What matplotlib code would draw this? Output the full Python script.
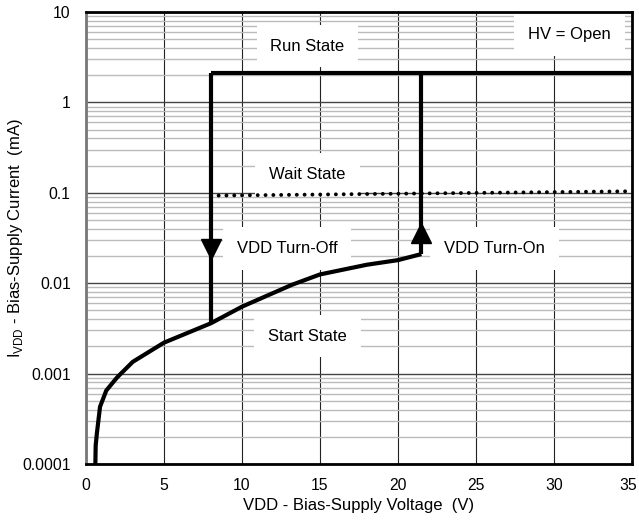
import numpy as np
import matplotlib.pyplot as plt
import matplotlib.transforms as mtransforms
from matplotlib.ticker import FixedLocator, LogLocator, NullFormatter

plt.rcParams['font.family'] = ['Liberation Sans', 'DejaVu Sans']

# start-state curve (V, mA)
start_v = [0.6, 0.62, 0.7, 0.9, 1.3, 2.0, 3.0, 5.0, 8.0, 10.0, 13.2, 15.0, 18.0, 20.0, 21.5]
start_i = [0.0001, 0.00016, 0.00022, 0.00043, 0.00065, 0.00091, 0.00135, 0.0022, 0.0036,
           0.0055, 0.0096, 0.0125, 0.016, 0.018, 0.021]
turn_on_v = 21.5
turn_off_v = 8.0
run_i = 2.1
wait_v = [8.0, 35.0]
wait_i = [0.093, 0.104]

xticks = [0, 5, 10, 15, 20, 25, 30, 35]
yticks = [0.0001, 0.001, 0.01, 0.1, 1, 10]
ylabels = ['0.0001', '0.001', '0.01', '0.1', '1', '10']

fig = plt.figure(figsize=(6.39, 5.29), dpi=100)
ax = fig.add_axes([86 / 639, 1 - 464 / 529, 546 / 639, 452 / 529])
ax.set_yscale('log')
ax.set_xlim(0, 35)
ax.set_ylim(0.0001, 10)

ax.xaxis.set_major_locator(FixedLocator(xticks))
ax.yaxis.set_major_locator(FixedLocator(yticks))
ax.set_yticklabels(ylabels)
ax.yaxis.set_minor_locator(LogLocator(base=10, subs=np.arange(2, 10)))
ax.yaxis.set_minor_formatter(NullFormatter())
ax.tick_params(which='both', length=0, labelsize=11.3)
ax.tick_params(axis='y', pad=11)
ax.tick_params(axis='x', pad=10)

ax.grid(which='minor', axis='y', color='#bbbbbb', lw=1.0, zorder=0)
ax.grid(which='major', axis='y', color='#444444', lw=1.0, zorder=0)
ax.grid(which='major', axis='x', color='#222222', lw=0.8, zorder=0)
for s in ax.spines.values():
    s.set_linewidth(2)
    s.set_zorder(5)
ax.spines['left'].set_color('#777777')

lk = dict(color='black', lw=3, solid_capstyle='butt', zorder=4)
ax.plot(start_v, start_i, **lk)
ax.plot([turn_on_v, turn_on_v], [start_i[-1], run_i], **lk)
ax.plot([turn_off_v, 35], [run_i, run_i], **lk)
ax.plot([turn_off_v, turn_off_v], [run_i, start_i[8]], **lk)
ax.plot(wait_v, wait_i, color='black', lw=2.8, ls=(0, (0.01, 2.0)), dash_capstyle='round', zorder=4)

# arrows
ax.plot(turn_off_v, 0.024, marker='v', ms=14, color='black', zorder=4)
ax.plot(turn_on_v, 0.036, marker='^', ms=14, color='black', zorder=4)

box = dict(facecolor='white', edgecolor='none', pad=10)
labels = [
    (14.2, 4.2, 'Run State'),
    (14.2, 0.16, 'Wait State'),
    (12.9, 0.024, 'VDD Turn-Off'),
    (26.2, 0.024, 'VDD Turn-On'),
    (14.2, 0.0026, 'Start State'),
    (31.0, 5.6, 'HV = Open'),
]
for x, y, t in labels:
    ax.text(x, y, t, ha='center', va='center', fontsize=12, bbox=box, zorder=3)

ax.set_xlabel('VDD - Bias-Supply Voltage  (V)', fontsize=12, labelpad=4)
ax.set_ylabel('I$_{\\mathregular{VDD}}$ - Bias-Supply Current  (mA)', fontsize=12)
ax.yaxis.set_label_coords(-0.112, 0.5)

# keep the last x tick label inside the figure
last = ax.get_xticklabels()[-1]
last.set_transform(last.get_transform() + mtransforms.ScaledTranslation(-4 / 100, 0, fig.dpi_scale_trans))

fig.savefig('out.png', dpi=100)
